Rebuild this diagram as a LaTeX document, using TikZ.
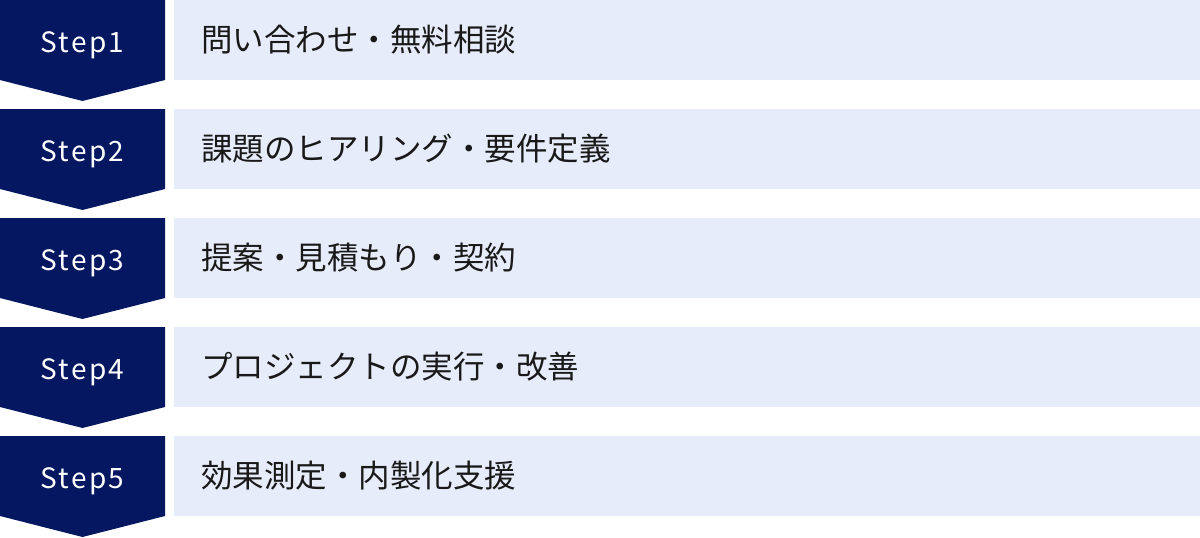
\documentclass[tikz,border=0pt]{standalone}
\usepackage{fontspec}
\newfontfamily\jpfont{Noto Sans CJK JP}
\newfontfamily\stepfont[LetterSpace=8]{Noto Sans CJK JP}
\definecolor{navy}{HTML}{041760}
\definecolor{lightbg}{HTML}{E6ECF9}
\begin{document}
\begin{tikzpicture}[x=1pt,y=-1pt,
  chevron/.style={fill=navy,draw=none},
  band/.style={fill=lightbg,draw=none,anchor=north west,minimum width=1026pt,minimum height=80pt,inner sep=0pt},
  steplabel/.style={text=white,font=\stepfont\fontsize{28}{30}\selectfont,inner sep=0pt,anchor=base},
  itemlabel/.style={text=black!90,font=\jpfont\fontsize{31.5}{34}\selectfont,anchor=west,inner sep=0pt}]
\useasboundingbox (0,0) rectangle (1200,538);
\foreach \i/\t in {1/問い合わせ・無料相談,2/課題のヒアリング・要件定義,3/提案・見積もり・契約,4/プロジェクトの実行・改善,5/効果測定・内製化支援}{
  \pgfmathsetmacro{\top}{(\i-1)*109}
  \path[chevron] (0,\top) -- (165,\top) -- (165,\top+80) -- (82.5,\top+101) -- (0,\top+80) -- cycle;
  \node[steplabel] (s\i) at (82.5,\top+52) {Step\i};
  \node[band] (b\i) at (174,\top) {};
  \node[itemlabel] (t\i) at (201,\top+40) {\t};
}
\end{tikzpicture}
\end{document}
